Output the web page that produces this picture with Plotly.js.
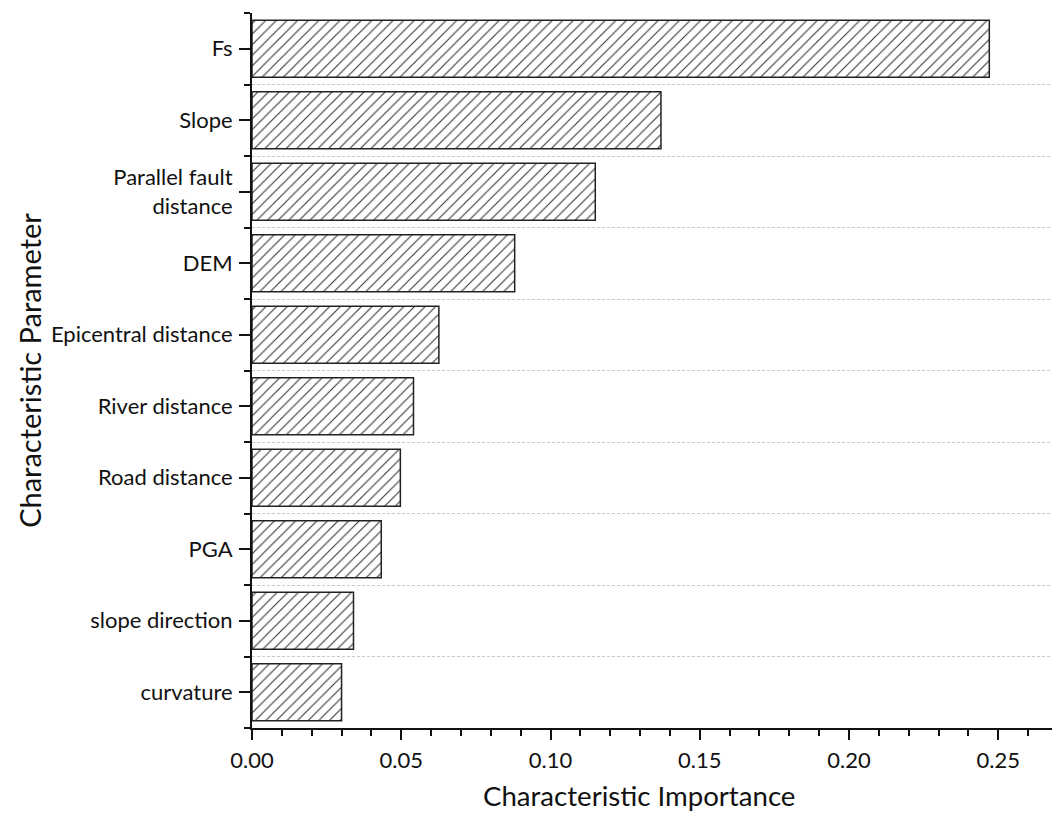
<!DOCTYPE html>
<html>
<head>
<meta charset="utf-8">
<script src="https://cdn.plot.ly/plotly-3.0.1.min.js"></script>
<style>html,body{margin:0;padding:0;background:#fff;}#chart{width:1052px;height:815px;}</style>
</head>
<body>
<div id="chart"></div>
<script>
// Categories, top to bottom
const categories = ["Fs", "Slope", "Parallel fault<br>distance", "DEM", "Epicentral distance",
  "River distance", "Road distance", "PGA", "slope direction", "curvature"];
// Characteristic importance values
const importance = [0.247, 0.137, 0.115, 0.088, 0.0626, 0.0541, 0.0497, 0.0433, 0.034, 0.030];
const xTickVals = [0, 0.05, 0.10, 0.15, 0.20, 0.25];
const xTickText = ["0.00", "0.05", "0.10", "0.15", "0.20", "0.25"];
const xTitle = "Characteristic Importance";
const yTitle = "Characteristic Parameter";

const positions = categories.map((c, i) => i);
const boundaries = [];
for (let i = 0; i <= categories.length; i++) boundaries.push(i - 0.5);

const FONT = "Lato, 'Open Sans', sans-serif";

const trace = {
  type: "bar",
  orientation: "h",
  x: importance,
  y: positions,
  width: 0.8,
  marker: {
    color: "#ffffff",
    line: {color: "#222222", width: 1.5},
    pattern: {shape: "/", size: 7.5, solidity: 0.14, fgcolor: "#333333", bgcolor: "#ffffff"}
  },
  hoverinfo: "x"
};

const layout = {
  width: 1052, height: 815,
  margin: {l: 252, r: 0, t: 13, b: 87},
  paper_bgcolor: "#ffffff", plot_bgcolor: "#ffffff",
  showlegend: false,
  font: {family: FONT, color: "#111111", size: 22},
  xaxis: {
    range: [0, 0.268],
    tickmode: "array", tickvals: xTickVals, ticktext: xTickText,
    ticks: "outside", ticklen: 10, tickwidth: 2, tickcolor: "#111",
    ticklabelstandoff: 2,
    showline: true, linecolor: "#111", linewidth: 2,
    showgrid: false, zeroline: false,
    minor: {tickmode: "linear", tick0: 0, dtick: 0.01, ticks: "outside", ticklen: 6, tickwidth: 2, tickcolor: "#111", showgrid: false},
    tickfont: {family: FONT, size: 22, color: "#111"}
  },
  yaxis: {
    range: [categories.length - 0.5, -0.5],
    tickmode: "array", tickvals: positions, ticktext: categories,
    ticks: "outside", ticklen: 11, tickwidth: 2, tickcolor: "#111",
    ticklabelstandoff: 2,
    showline: true, linecolor: "#111", linewidth: 2,
    showgrid: false, zeroline: false,
    minor: {tickmode: "array", tickvals: boundaries, ticks: "outside", ticklen: 6, tickwidth: 2, tickcolor: "#111",
      showgrid: true, gridcolor: "#c8c8c8", gridwidth: 1, griddash: "3px,2px"},
    tickfont: {family: FONT, size: 22, color: "#111"},
    title: {text: yTitle, font: {family: FONT, size: 29, color: "#111"}, standoff: 1}
  },
  annotations: [{
    text: xTitle, xref: "paper", yref: "paper", x: 0.484, y: -0.094,
    xanchor: "center", yanchor: "middle", showarrow: false, borderpad: 0,
    font: {family: FONT, size: 27.6, color: "#111"}
  }]
};

Plotly.newPlot("chart", [trace], layout, {displayModeBar: false, staticPlot: true});
</script>
</body>
</html>
